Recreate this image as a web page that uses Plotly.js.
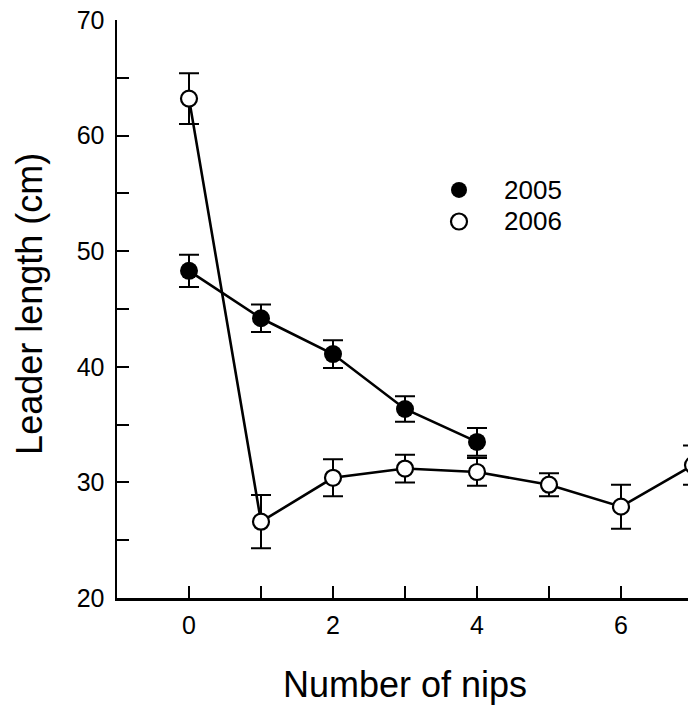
<!DOCTYPE html>
<html>
<head>
<meta charset="utf-8">
<script src="https://cdn.plot.ly/plotly-3.0.1.min.js"></script>
<style>
html, body { margin: 0; padding: 0; overflow: hidden; background: #fff; }
#chart { width: 760px; height: 707px; }
</style>
</head>
<body>
<div id="chart"></div>
<script>
// Data
var nips2005 = [0, 1, 2, 3, 4];
var length2005 = [48.3, 44.2, 41.1, 36.35, 33.5];
var err2005 = [1.4, 1.2, 1.2, 1.1, 1.2];

var nips2006 = [0, 1, 2, 3, 4, 5, 6, 7];
var length2006 = [63.2, 26.6, 30.4, 31.2, 30.9, 29.8, 27.9, 31.5];
var err2006 = [2.2, 2.3, 1.6, 1.2, 1.2, 1.0, 1.9, 1.7];

var seriesNames = ['2005', '2006'];
var xTitle = 'Number of nips';
var yTitle = 'Leader length (cm)';

var FONT = 'Liberation Sans, Arial, Helvetica, sans-serif';

function legendLabel(s) { return '<span style="font-size:26px">' + s + '</span>'; }

var errStyle = {type: 'data', visible: true, color: '#000', thickness: 2, width: 10};

var traces = [
  {
    x: nips2005, y: length2005, type: 'scatter', mode: 'lines+markers',
    showlegend: false,
    line: {color: '#000', width: 2.6},
    marker: {symbol: 'circle', size: 18, color: '#000', line: {width: 0}},
    error_y: Object.assign({array: err2005}, errStyle),
    cliponaxis: false
  },
  {
    x: nips2006, y: length2006, type: 'scatter', mode: 'lines+markers',
    showlegend: false,
    line: {color: '#000', width: 2.6},
    marker: {symbol: 'circle', size: 16, color: '#fff', line: {width: 2.2, color: '#000'}},
    error_y: Object.assign({array: err2006}, errStyle),
    cliponaxis: false
  },
  {
    x: [null], y: [null], type: 'scatter', mode: 'markers', name: legendLabel(seriesNames[0]),
    marker: {symbol: 'circle', size: 18, color: '#000', line: {width: 0}}
  },
  {
    x: [null], y: [null], type: 'scatter', mode: 'markers', name: legendLabel(seriesNames[1]),
    marker: {symbol: 'circle', size: 16, color: '#fff', line: {width: 2.2, color: '#000'}}
  }
];

var layout = {
  width: 760, height: 707,
  margin: {l: 117, r: 31, t: 20, b: 109},
  paper_bgcolor: '#fff', plot_bgcolor: '#fff',
  font: {family: FONT, color: '#000', size: 25},
  showlegend: true,
  legend: {
    x: 0.4853, y: 0.742, xanchor: 'left', yanchor: 'top',
    font: {family: FONT, size: 22, color: '#000'},
    itemwidth: 80, bgcolor: 'rgba(0,0,0,0)', borderwidth: 0
  },
  xaxis: {
    range: [-1, 7.5], showgrid: false, zeroline: false,
    showline: true, linecolor: '#000', linewidth: 2.5,
    ticks: 'inside', ticklen: 12, tickwidth: 2, tickcolor: '#000',
    tick0: 0, dtick: 2,
    minor: {ticks: 'inside', ticklen: 12, tickwidth: 2, tickcolor: '#000', dtick: 1, tick0: 0, showgrid: false},
    tickfont: {family: FONT, size: 25, color: '#000'},
    ticklabelstandoff: 3
  },
  yaxis: {
    range: [20, 70], showgrid: false, zeroline: false,
    showline: true, linecolor: '#000', linewidth: 2.5,
    ticks: 'inside', ticklen: 12, tickwidth: 2, tickcolor: '#000',
    tick0: 20, dtick: 10,
    minor: {ticks: 'inside', ticklen: 12, tickwidth: 2, tickcolor: '#000', dtick: 5, tick0: 20, showgrid: false},
    tickfont: {family: FONT, size: 25, color: '#000'},
    ticklabelstandoff: 5
  },
  annotations: [
    {
      text: xTitle, xref: 'x', yref: 'paper', x: 3, y: 0,
      xanchor: 'center', yanchor: 'middle', yshift: -86, showarrow: false,
      font: {family: FONT, size: 36, color: '#000'}
    },
    {
      text: yTitle, xref: 'paper', yref: 'paper', x: 0, y: 0.508,
      xanchor: 'center', yanchor: 'middle', xshift: -87.5, textangle: -90, showarrow: false,
      font: {family: FONT, size: 36, color: '#000'}
    }
  ]
};

Plotly.newPlot('chart', traces, layout, {staticPlot: true, displayModeBar: false});
</script>
</body>
</html>
